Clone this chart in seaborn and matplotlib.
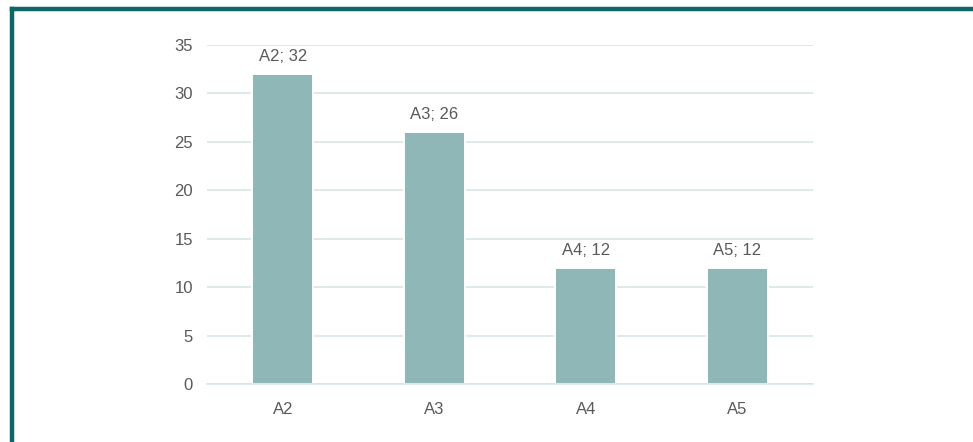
import matplotlib
matplotlib.use("Agg")
import matplotlib.pyplot as plt
import seaborn as sns
import pandas as pd
from matplotlib.lines import Line2D

categories = ["A2", "A3", "A4", "A5"]
values = [32, 26, 12, 12]
yticks = [0, 5, 10, 15, 20, 25, 30, 35]

sns.set_theme(style="white")
plt.rcParams['font.family'] = ['Liberation Sans', 'DejaVu Sans']

df = pd.DataFrame({"cat": categories, "val": values})

fig = plt.figure(figsize=(9.73, 4.42), dpi=100)
ax = fig.add_axes([207/973, 1-384/442, (813-207)/973, (384-45)/442])

bar_color = "#8FB7B8"
grid_color = "#D5E6E6"
text_color = "#595959"

sns.barplot(data=df, x="cat", y="val", color=bar_color, width=0.40,
            saturation=1, ax=ax, zorder=3, edgecolor="white", linewidth=1.4)

ax.set_ylim(0, 35)
ax.set_xlim(-0.5, len(categories) - 0.5)
ax.set_yticks(yticks)
ax.set_yticklabels([str(t) for t in yticks])
ax.yaxis.grid(True, color=grid_color, linewidth=1.2, zorder=0)
ax.set_axisbelow(True)
ax.set_xlabel("")
ax.set_ylabel("")

for s in ["top", "right", "left"]:
    ax.spines[s].set_visible(False)
ax.spines["bottom"].set_color(grid_color)
ax.spines["bottom"].set_linewidth(1.2)
ax.spines["bottom"].set_zorder(4)

ax.tick_params(axis="y", length=0, pad=10, labelsize=12, labelcolor=text_color)
ax.tick_params(axis="x", which="major", length=0, pad=13, labelsize=12, labelcolor=text_color)
ax.set_xticks([i - 0.5 for i in range(len(categories) + 1)], minor=True)
ax.tick_params(axis="x", which="minor", length=6, width=1.2, color=grid_color, direction="out")

for i, (c, v) in enumerate(zip(categories, values)):
    ax.annotate(f"{c}; {v}", xy=(i, v), xytext=(0, 7), textcoords="offset points",
                ha="center", va="bottom", fontsize=12, color=text_color)

border_color = "#0E6666"
fig.add_artist(Line2D([12/973, 1.0], [1-9/442, 1-9/442], transform=fig.transFigure,
                      color=border_color, linewidth=3.2, solid_capstyle="projecting"))
fig.add_artist(Line2D([12/973, 12/973], [0.0, 1-9/442], transform=fig.transFigure,
                      color=border_color, linewidth=3.2, solid_capstyle="projecting"))

fig.savefig("out.png", dpi=100, facecolor="white")
